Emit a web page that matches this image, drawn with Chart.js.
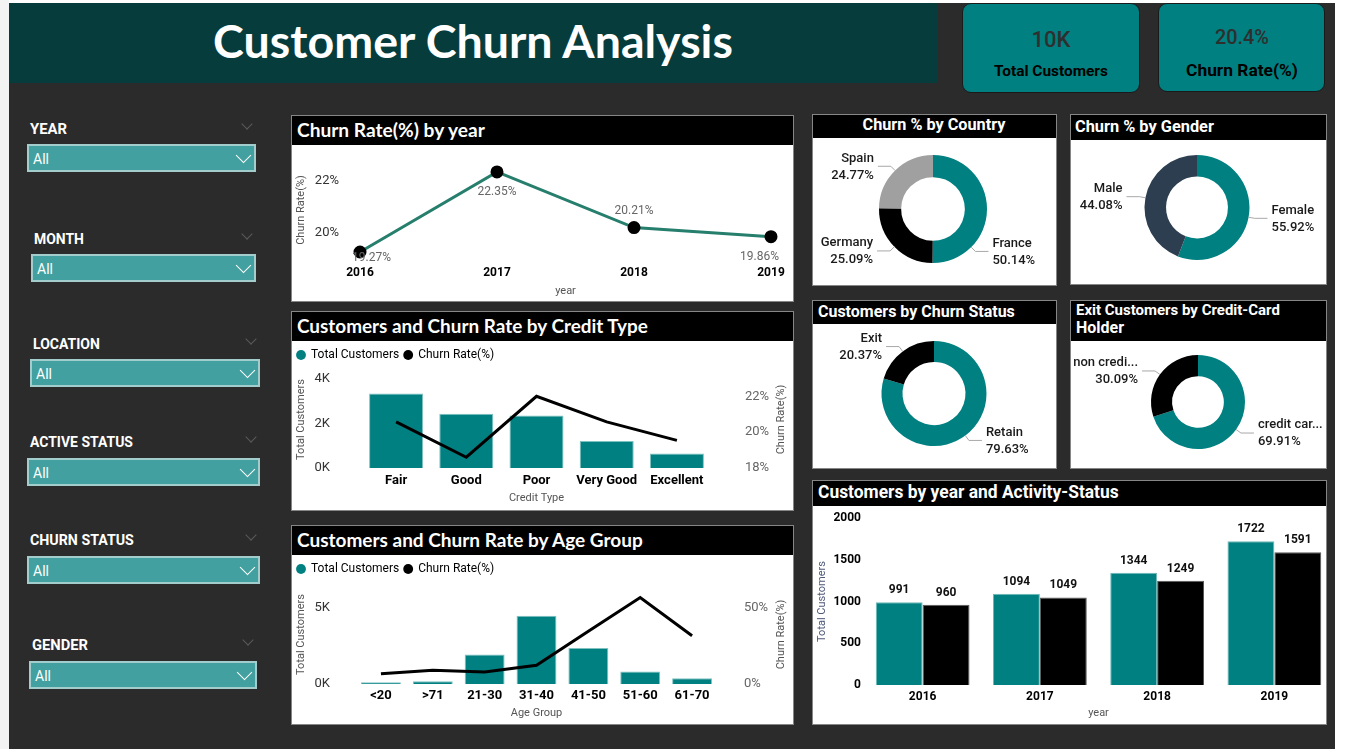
<!DOCTYPE html>
<html><head><meta charset="utf-8">
<script src="https://cdn.jsdelivr.net/npm/chart.js@4.4.1/dist/chart.umd.min.js"></script>
<style>
html,body{margin:0;padding:0}
body{width:1360px;height:749px;position:relative;overflow:hidden;background:#fff;font-family:Roboto,"Noto Sans",sans-serif}
canvas{position:absolute}
</style></head>
<body>
<script>
// ---------------- DATA ----------------
const years = ['2016', '2017', '2018', '2019'];
const churnRateByYear = [19.27, 22.35, 20.21, 19.86];
const rateTicksYear = [20, 22];

const creditTypes = ['Fair', 'Good', 'Poor', 'Very Good', 'Excellent'];
const customersByCredit = [3350, 2440, 2360, 1210, 650];
const churnByCredit = [20.57, 18.6, 22.0, 20.57, 19.54];
const customerTicksCredit = [0, 2000, 4000];
const rateTicksCredit = [18, 20, 22];

const ageGroups = ['<20', '>71', '21-30', '31-40', '41-50', '51-60', '61-70'];
const customersByAge = [110, 180, 1950, 4510, 2380, 820, 380];
const churnByAge = [6.7, 9.1, 8.0, 12.4, 34.8, 57.1, 31.8];
const customerTicksAge = [0, 5000];
const rateTicksAge = [0, 50];

const countries = ['France', 'Germany', 'Spain'];
const churnShareCountry = [50.14, 25.09, 24.77];
const genders = ['Female', 'Male'];
const churnShareGender = [55.92, 44.08];
const churnStatuses = ['Retain', 'Exit'];
const shareChurnStatus = [79.63, 20.37];
const cardHolders = ['credit card holder', 'non credit card holder'];
const exitShareCard = [69.91, 30.09];

const activityYears = ['2016', '2017', '2018', '2019'];
const activeMembers = [991, 1094, 1344, 1722];
const inactiveMembers = [960, 1049, 1249, 1591];
const activityTicks = [0, 500, 1000, 1500, 2000];

const kpiTotalCustomers = '10K';
const kpiChurnRate = '20.4%';
const slicers = ['YEAR', 'MONTH', 'LOCATION', 'ACTIVE STATUS', 'CHURN STATUS', 'GENDER'];

// ---------------- HELPERS ----------------
const UI = 'Roboto, "Noto Sans", sans-serif';
const SEG = 'Lato, "Open Sans", sans-serif';
function rect(x, y, w, h, css) {
  const e = document.createElement('div');
  e.style.cssText = `position:absolute;left:${x}px;top:${y}px;width:${w}px;height:${h}px;box-sizing:border-box;` + (css || '');
  document.body.appendChild(e); return e;
}
function txt(s, x, y, css, align, fitW) {
  const e = document.createElement('div');
  e.textContent = s;
  e.style.cssText = 'position:absolute;left:0;top:0;white-space:nowrap;line-height:1;' + css;
  document.body.appendChild(e);
  if (fitW) {
    const w0 = e.getBoundingClientRect().width;
    const fs = parseFloat(getComputedStyle(e).fontSize);
    if (w0 > 0) e.style.fontSize = (fs * fitW / w0) + 'px';
  }
  const r = e.getBoundingClientRect();
  const left = align === 'center' ? x - r.width / 2 : align === 'right' ? x - r.width : x;
  e.style.left = left + 'px'; e.style.top = (y - r.height / 2) + 'px';
  return e;
}
function chevron(cx, cy, size, color, bw) {
  rect(cx - size / 2, cy - size / 2, size, size, `border-right:${bw}px solid ${color};border-bottom:${bw}px solid ${color};transform:rotate(45deg);`);
}
function mkCanvas(x, y, w, h) {
  const c = document.createElement('canvas');
  c.width = w; c.height = h;
  c.style.cssText = `position:absolute;left:${x}px;top:${y}px;width:${w}px;height:${h}px`;
  document.body.appendChild(c); return c;
}

// ---------------- CHROME ----------------
rect(0, 0, 9, 749, 'background:#f3f3f3');
rect(9, 3, 1326, 746, 'background:#2b2b2b');
rect(9, 3, 929, 80, 'background:#063c3c');
txt('Customer Churn Analysis', 473, 40, `font:700 44px ${SEG};color:#fff;`, 'center', 520);

rect(962, 3, 178, 90, 'background:#008080;border:1.5px solid #1a1a1a;border-radius:9px');
rect(1158, 3, 167, 89, 'background:#008080;border:1.5px solid #1a1a1a;border-radius:9px');
txt(kpiTotalCustomers, 1051, 39, `font:500 22px ${UI};color:#2f2f2f;`, 'center');
txt('Total Customers', 1051, 71, `font:700 14px ${UI};color:#000;`, 'center', 114);
txt(kpiChurnRate, 1242, 37, `font:500 22px ${UI};color:#2f2f2f;`, 'center', 54);
txt('Churn Rate(%)', 1242, 70, `font:700 16px ${UI};color:#000;`, 'center', 112);

// slicers: label y, box x, box y, box w, label width
const slicerGeom = [
  [129, 27, 144, 229, 37], [239, 31, 254, 225, 50], [344, 30, 359, 230, 67],
  [442, 27, 458, 233, 103], [540, 27, 556, 233, 104], [645, 29, 661, 228, 56]
];
slicers.forEach((name, i) => {
  const [ly, bx, by, bw, lw] = slicerGeom[i];
  txt(name, bx + 3, ly, `font:700 14px ${UI};color:#fff;`, 'left', lw);
  chevron(bx + bw - 9, ly - 5, 8, '#5b5b5b', 1);
  rect(bx, by, bw, 28, 'background:#43a0a0;border:2px solid #a3cdcd');
  txt('All', bx + 6, by + 15, `font:400 14px ${UI};color:#fff;`, 'left');
  chevron(bx + bw - 13, by + 11, 11, '#fff', 1.5);
});

// panels
function panel(x, y, w, h, th) {
  rect(x, y, w, h, 'background:#fff;border:1px solid #868686');
  rect(x + 1, y + 1, w - 2, th, 'background:#000');
}
panel(291, 115, 503, 187, 29);
panel(291, 311, 503, 200, 29);
panel(291, 525, 503, 200, 29);
panel(812, 114, 245, 172, 23);
panel(1070, 114, 257, 171, 25);
panel(812, 300, 245, 169, 23);
panel(1070, 300, 257, 169, 40);
panel(812, 480, 515, 245, 25);
const tSeg = `font:700 19px ${SEG};color:#fff;`;
const tDin = `font:700 16px ${UI};color:#fff;`;
txt('Churn Rate(%) by year', 297, 129, tSeg, 'left', 188);
txt('Customers and Churn Rate by Credit Type', 297, 325, tSeg, 'left', 351);
txt('Customers and Churn Rate by Age Group', 297, 539, tSeg, 'left', 346);
txt('Churn % by Country', 934, 124, tDin, 'center', 143);
txt('Churn % by Gender', 1075, 126, tDin, 'left', 139);
txt('Customers by Churn Status', 818, 311, tDin, 'left', 197);
txt('Exit Customers by Credit-Card', 1076, 310, tDin, 'left', 204);
txt('Holder', 1076, 327, tDin, 'left');
txt('Customers by year and Activity-Status', 818, 492, tDin, 'left', 301);

// ---------------- CHART.JS ----------------
Chart.defaults.font.family = UI;
Chart.defaults.animation = false;
Chart.defaults.responsive = false;
Chart.defaults.plugins.tooltip.enabled = false;
Chart.defaults.plugins.legend.display = false;

const setTicks = arr => s => { s.ticks = arr.map(v => ({value: v})); };
const noGrid = {display: false, drawTicks: false};
const noBorder = {display: false};
const fitV = w => s => { s.width = w; s.paddingTop = 0; s.paddingBottom = 0; };
const fitH = h => s => { s.height = h; s.paddingLeft = 0; s.paddingRight = 0; };

const lineValueLabels = {
  id: 'lineValueLabels',
  afterDatasetsDraw(chart, args, o) {
    const {ctx, chartArea} = chart;
    const ds = chart.data.datasets[0];
    ctx.save();
    ctx.font = `12px ${UI}`; ctx.fillStyle = '#666'; ctx.textAlign = 'center'; ctx.textBaseline = 'middle';
    chart.getDatasetMeta(0).data.forEach((pt, i) => {
      const t = ds.data[i].toFixed(2) + '%';
      const w = ctx.measureText(t).width;
      let y = o.sides[i] === 'above' ? pt.y - 17 : pt.y + 20;
      y = Math.min(y, chartArea.bottom - 1);
      const x = Math.max(chartArea.left - 8 + w / 2, Math.min(chartArea.right + 8 - w / 2, pt.x));
      ctx.fillText(t, x, y);
    });
    ctx.restore();
  }
};
const rightAxisTitle = {
  id: 'rightAxisTitle',
  afterDraw(chart, args, o) {
    const s = chart.scales.y1, ca = chart.chartArea, ctx = chart.ctx;
    ctx.save();
    ctx.translate(s.right - o.offset, (ca.top + ca.bottom) / 2 + (o.dy || 0));
    ctx.rotate(-Math.PI / 2);
    ctx.font = `11px ${UI}`; ctx.fillStyle = '#555'; ctx.textAlign = 'center'; ctx.textBaseline = 'middle';
    ctx.fillText(o.text, 0, 0);
    ctx.restore();
  }
};
const barValueLabels = {
  id: 'barValueLabels',
  afterDatasetsDraw(chart, args, o) {
    const ctx = chart.ctx;
    ctx.save();
    ctx.font = `700 12px ${UI}`; ctx.fillStyle = '#111'; ctx.textAlign = 'center'; ctx.textBaseline = 'middle';
    chart.data.datasets.forEach((ds, di) => {
      chart.getDatasetMeta(di).data.forEach((el, i) => ctx.fillText(String(ds.data[i]), el.x, el.y - 12));
    });
    ctx.restore();
  }
};
const donutLabels = {
  id: 'donutLabels',
  afterDatasetsDraw(chart, args, o) {
    const ctx = chart.ctx, ds = chart.data.datasets[0];
    ctx.save();
    ctx.font = `500 13px ${UI}`;
    chart.getDatasetMeta(0).data.forEach((arc, i) => {
      const p = arc.getProps(['x', 'y', 'startAngle', 'endAngle', 'outerRadius'], true);
      const a = (o.angles && o.angles[i] != null) ? o.angles[i] : (p.startAngle + p.endAngle) / 2;
      const c = Math.cos(a), s = Math.sin(a);
      const ex = p.x + c * p.outerRadius, ey = p.y + s * p.outerRadius;
      const kx = ex + c * 6, ky = ey + s * 6;
      const dir = c >= 0 ? 1 : -1;
      const lx = kx + dir * 13;
      ctx.strokeStyle = '#a8a8a8'; ctx.lineWidth = 1;
      ctx.beginPath(); ctx.moveTo(ex, ey); ctx.lineTo(kx, ky); ctx.lineTo(lx, ky); ctx.stroke();
      let name = chart.data.labels[i];
      if (o.maxWidth && ctx.measureText(name).width > o.maxWidth) {
        while (name.length > 1 && ctx.measureText(name + '...').width > o.maxWidth) name = name.slice(0, -1);
        name = name + '...';
      }
      ctx.fillStyle = '#1a1a1a'; ctx.textBaseline = 'middle';
      ctx.textAlign = dir > 0 ? 'left' : 'right';
      const tx = lx + dir * 4;
      ctx.fillText(name, tx, ky - 8);
      ctx.fillText(ds.data[i].toFixed(2) + '%', tx, ky + 9);
    });
    ctx.restore();
  }
};

// 1. Churn rate by year
new Chart(mkCanvas(292, 145, 500, 155), {
  type: 'line',
  data: {labels: years, datasets: [{data: churnRateByYear, borderColor: '#267e6d', borderWidth: 3,
    pointRadius: 5, pointBackgroundColor: '#000', pointBorderColor: '#000', tension: 0}]},
  options: {
    layout: {padding: {top: 16, right: 21, left: 0, bottom: 0}},
    scales: {
      x: {offset: false, grid: noGrid, border: noBorder,
        ticks: {color: '#000', font: {size: 12, weight: 'bold'}, padding: 7, maxRotation: 0, autoSkip: false},
        title: {display: true, text: 'year', color: '#555', font: {size: 11}, padding: {top: 0, bottom: 2}},
        afterFit: fitH(41)},
      y: {min: 19, max: 22.77, grid: noGrid, border: noBorder, afterBuildTicks: setTicks(rateTicksYear),
        ticks: {callback: v => v + '%', color: '#333', font: {size: 13}, padding: 21},
        title: {display: true, text: 'Churn Rate(%)', color: '#555', font: {size: 11}, padding: {top: 3, bottom: 0}},
        afterFit: fitV(68)}
    },
    plugins: {lineValueLabels: {sides: ['below', 'below', 'above', 'below']}}
  },
  plugins: [lineValueLabels]
});

// combo chart builder
function combo(canvas, labels, bars, line, yMax, y1Min, y1Max, yTicks, y1Ticks, xTitle, o) {
  return new Chart(canvas, {
    type: 'bar',
    data: {labels, datasets: [
      {type: 'bar', label: 'Total Customers', data: bars, backgroundColor: '#008080', borderColor: '#7fc2c2',
        borderWidth: 1, yAxisID: 'y', order: 1, categoryPercentage: 1, barPercentage: 0.77},
      {type: 'line', label: 'Churn Rate(%)', data: line, borderColor: '#000', backgroundColor: '#000', borderWidth: 3,
        pointRadius: 0, yAxisID: 'y1', order: 0, tension: 0}
    ]},
    options: {
      layout: {padding: {top: 3, left: 0, right: 0, bottom: 0}},
      plugins: {
        legend: {display: true, position: 'top', align: 'start',
          labels: {usePointStyle: true, boxWidth: 8, boxHeight: 7, padding: 5, color: '#444', font: {size: 12},
            generateLabels: ch => ch.data.datasets.map((ds, i) => ({text: ds.label, fillStyle: i === 0 ? '#008080' : '#000',
              strokeStyle: i === 0 ? '#008080' : '#000', lineWidth: 0, pointStyle: 'circle', datasetIndex: i, hidden: false}))}},
        rightAxisTitle: {text: 'Churn Rate(%)', offset: 11}
      },
      scales: {
        x: {grid: noGrid, border: noBorder,
          ticks: {color: '#000', font: {size: 13, weight: 'bold'}, padding: o.xPad, autoSkip: false, maxRotation: 0},
          title: {display: true, text: xTitle, color: '#555', font: {size: 11}, padding: {top: 0, bottom: o.tPad}},
          afterFit: fitH(o.xH)},
        y: {position: 'left', min: 0, max: yMax, grid: noGrid, border: noBorder, afterBuildTicks: setTicks(yTicks),
          ticks: {callback: v => (v / 1000) + 'K', color: '#333', font: {size: 13}, padding: o.yPad},
          title: {display: true, text: 'Total Customers', color: '#555', font: {size: 11}, padding: {top: 3, bottom: 0}},
          afterFit: fitV(o.yW)},
        y1: {position: 'right', min: y1Min, max: y1Max, grid: noGrid, border: noBorder, afterBuildTicks: setTicks(y1Ticks),
          ticks: {callback: v => v + '%', color: '#666', font: {size: 13}, padding: o.y1Pad},
          afterFit: fitV(o.y1W)}
      }
    },
    plugins: [rightAxisTitle]
  });
}
combo(mkCanvas(292, 341, 500, 168), creditTypes, customersByCredit, churnByCredit, 4364, 18, 23.41,
  customerTicksCredit, rateTicksCredit, 'Credit Type', {xPad: 5, tPad: 4, xH: 41, yPad: 31, yW: 69, y1Pad: 33, y1W: 80});
combo(mkCanvas(292, 555, 500, 168), ageGroups, customersByAge, churnByAge, 6533, 0, 65.33,
  customerTicksAge, rateTicksAge, 'Age Group', {xPad: 4, tPad: 3, xH: 39, yPad: 25, yW: 63, y1Pad: 26, y1W: 74});

// donuts
function donut(canvas, labels, data, colors, cutout, padding, labelOpts) {
  return new Chart(canvas, {
    type: 'doughnut',
    data: {labels, datasets: [{data, backgroundColor: colors, borderWidth: 0, hoverOffset: 0, offset: 0}]},
    options: {cutout, layout: {padding}, plugins: {donutLabels: labelOpts}},
    plugins: [donutLabels]
  });
}
donut(mkCanvas(813, 138, 242, 146), countries, churnShareCountry, ['#008080', '#000000', '#a0a0a0'], '59%',
  {top: 17, bottom: 21, left: 0, right: 2}, {angles: [Math.PI / 4, null, null]});
donut(mkCanvas(1071, 140, 254, 143), genders, churnShareGender, ['#008080', '#2c3e50'], '59%',
  {top: 15, bottom: 23, left: 0, right: 2}, {});
donut(mkCanvas(813, 324, 242, 143), churnStatuses, shareChurnStatus, ['#008080', '#000000'], '60%',
  {top: 17, bottom: 21, left: 0, right: 0}, {});
donut(mkCanvas(1071, 341, 254, 126), cardHolders, exitShareCard, ['#008080', '#000000'], '55%',
  {top: 14, bottom: 18, left: 0, right: 0}, {maxWidth: 66});

// activity bars
new Chart(mkCanvas(813, 506, 520, 217), {
  type: 'bar',
  data: {labels: activityYears, datasets: [
    {label: 'Active', data: activeMembers, backgroundColor: '#008080', borderColor: '#6fb9b9', borderWidth: 1},
    {label: 'Inactive', data: inactiveMembers, backgroundColor: '#000', borderColor: '#5a5a5a', borderWidth: 1}
  ]},
  options: {
    datasets: {bar: {categoryPercentage: 0.8, barPercentage: 1}},
    layout: {padding: {top: 12, right: 0, left: 0, bottom: 0}},
    scales: {
      x: {grid: noGrid, border: noBorder,
        ticks: {color: '#000', font: {size: 12, weight: 'bold'}, padding: 5, autoSkip: false, maxRotation: 0},
        title: {display: true, text: 'year', color: '#555', font: {size: 11}, padding: {top: 0, bottom: 3}},
        afterFit: fitH(38)},
      y: {min: 0, max: 2000, grid: noGrid, border: noBorder, afterBuildTicks: setTicks(activityTicks),
        ticks: {callback: v => String(v), color: '#000', font: {size: 12, weight: 'bold'}, padding: 3},
        title: {display: true, text: 'Total Customers', color: '#4e5a78', font: {size: 11}, padding: {top: 3, bottom: 0}},
        afterFit: fitV(51)}
    }
  },
  plugins: [barValueLabels]
});
</script>
</body></html>
